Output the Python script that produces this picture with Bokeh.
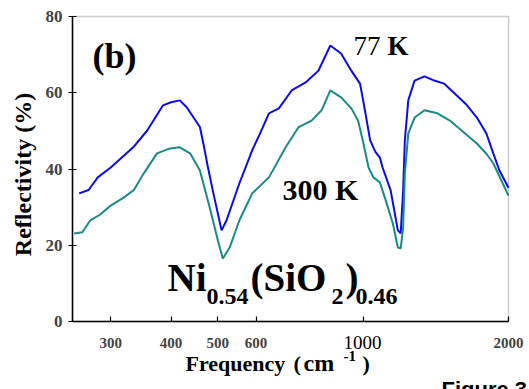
import math
from bokeh.plotting import figure
from bokeh.models import Range1d, FixedTicker, Label, BoxAnnotation
from bokeh.embed import file_html
from bokeh.resources import INLINE

# ---- data ----
freq_77 = [258, 270, 282, 300, 334, 357, 385, 400, 417, 431, 459, 467, 476, 488, 509, 521,
           554, 589, 610, 638, 669, 711, 760, 808, 855, 900, 945, 985, 1000, 1034, 1060,
           1083, 1097, 1140, 1180, 1196, 1210, 1220, 1240, 1278, 1340, 1404, 1470, 1563,
           1641, 1720, 1800, 1860, 1915, 2000]
refl_77 = [33.6, 34.5, 37.8, 40.4, 45.7, 50.1, 56.7, 57.5, 58.0, 56.2, 51.0, 46.5, 41.0, 34.4,
           23.9, 26.5, 36.2, 44.9, 49.0, 54.6, 55.9, 60.6, 62.7, 65.8, 72.4, 70.3, 65.8, 62.4,
           58.0, 47.5, 44.5, 43.0, 40.4, 34.4, 23.9, 23.1, 34.4, 47.5, 58.0, 63.2, 64.3, 63.2,
           62.4, 59.3, 56.7, 53.5, 49.3, 44.1, 39.6, 35.1]

freq_300 = [252, 262, 272, 285, 300, 319, 335, 351, 374, 398, 417, 438, 459, 481, 500, 512,
            529, 554, 589, 638, 691, 735, 782, 820, 855, 900, 945, 976, 1000, 1026, 1050,
            1083, 1114, 1152, 1180, 1196, 1210, 1220, 1240, 1278, 1340, 1425, 1512, 1617,
            1720, 1800, 1860, 2000]
refl_300 = [23.1, 23.4, 26.5, 28.0, 30.4, 32.5, 34.5, 38.8, 44.1, 45.4, 45.7, 44.1, 39.6, 29.9,
            21.3, 16.5, 19.4, 26.5, 33.6, 37.8, 45.7, 51.0, 52.7, 55.4, 60.6, 58.8, 55.9, 52.7,
            47.0, 40.4, 37.8, 36.5, 31.7, 25.7, 19.4, 19.2, 24.7, 38.8, 49.3, 53.5, 55.4, 54.6,
            52.7, 49.6, 46.7, 44.0, 41.5, 33.0]

x_ticks = [300, 400, 500, 600, 1000, 2000]
y_ticks = [0, 20, 40, 60, 80]

X0, X1 = 250, 2000
Y0, Y1 = 0, 80

W, H = 529, 389
# pixel box of the plotting area inside the canvas
FL, FR, FT, FB = 72, 508, 16, 321

# extend the ranges so that the whole canvas is the frame and the
# [X0,X1]x[Y0,Y1] box lands on the pixel box above (axes are pinned to it)
dec_per_px = math.log10(X1 / X0) / (FR - FL)
xs = X0 * 10 ** (-FL * dec_per_px)
xe = X1 * 10 ** ((W - FR) * dec_per_px)
u_per_px = (Y1 - Y0) / (FB - FT)
ys = Y0 - (H - FB) * u_per_px
ye = Y1 + FT * u_per_px

BLUE = "#0a0af0"
TEAL = "#1a8a86"
SERIF = "Liberation Serif"

p = figure(width=W, height=H, x_axis_type="log", output_backend="svg",
           toolbar_location=None, x_range=Range1d(xs, xe), y_range=Range1d(ys, ye),
           min_border=0)
p.min_border_left = 0
p.min_border_right = 0
p.min_border_top = 0
p.min_border_bottom = 0
p.background_fill_color = "white"
p.border_fill_color = "white"
p.grid.visible = False
p.outline_line_color = None

# plot box (gray top/right edges; axes overdraw left/bottom)
p.add_layout(BoxAnnotation(left=X0, right=X1, bottom=Y0, top=Y1, fill_alpha=0,
                           line_color="#555555", line_width=1.5, level="underlay"))

p.line(freq_77, refl_77, line_color=BLUE, line_width=2)
p.line(freq_300, refl_300, line_color=TEAL, line_width=2)

xa = p.xaxis[0]
xa.fixed_location = Y0
xa.bounds = (X0, X1)
xa.ticker = FixedTicker(ticks=x_ticks, minor_ticks=[])
xa.major_label_overrides = {1000: " "}
xa.major_tick_in = 5
xa.major_tick_out = 0
xa.minor_tick_line_color = None
xa.major_label_standoff = 13
xa.major_label_text_font = SERIF
xa.major_label_text_font_style = "bold"
xa.major_label_text_font_size = "15px"
xa.axis_line_width = 1.5
xa.major_tick_line_width = 1.2

ya = p.yaxis[0]
ya.fixed_location = X0
ya.bounds = (Y0, Y1)
ya.ticker = FixedTicker(ticks=y_ticks, minor_ticks=[])
ya.major_tick_in = 4
ya.major_tick_out = 4
ya.minor_tick_line_color = None
ya.major_label_standoff = 6
ya.major_label_text_font = SERIF
ya.major_label_text_font_style = "bold"
ya.major_label_text_font_size = "17px"
ya.axis_line_width = 1.5
ya.major_tick_line_width = 1.2

SHIFT = 0.35  # Bokeh's alphabetic baseline sits ~0.35 em below the requested y


def lab(text, px, py, size, style="bold", font=SERIF, align="left", angle=0.0):
    if angle:
        px = px - SHIFT * size
    else:
        py = py - SHIFT * size
    p.add_layout(Label(x=px, y=py, x_units="canvas", y_units="canvas", text=text,
                       text_font=font, text_font_size=f"{size}px",
                       text_font_style=style, text_align=align,
                       text_baseline="alphabetic", angle=angle, text_color="black"))


# x tick "1000" in a different style
lab("1000", 362, 349, 19, style="normal", align="center")

# panel annotations
lab("(b)", 92, 68, 36)
lab("77", 353, 55, 27, style="normal")
lab("K", 387, 55, 27)
lab("300 K", 282, 199, 30)

# formula Ni0.54(SiO2)0.46
lab("Ni", 167, 291, 39)
lab("0.54", 206, 304, 24)
lab("(SiO", 250, 291, 39)
lab("2", 331, 304, 24)
lab(")", 345, 291, 39)
lab("0.46", 355, 304, 24)

# axis titles
lab("Reflectivity  (%)", 31, 171, 24, align="center", angle=math.pi / 2)
lab("Frequency", 185, 371, 22)
lab("(", 293, 371, 22)
lab("cm", 303, 371, 24)
lab("-1", 343, 361, 15)
lab(")", 362, 371, 22)

# caption fragment at the bottom edge
lab("Figure 3", 441, 397, 22, font="Liberation Sans")

open("out.html", "w").write(file_html(p, INLINE))
